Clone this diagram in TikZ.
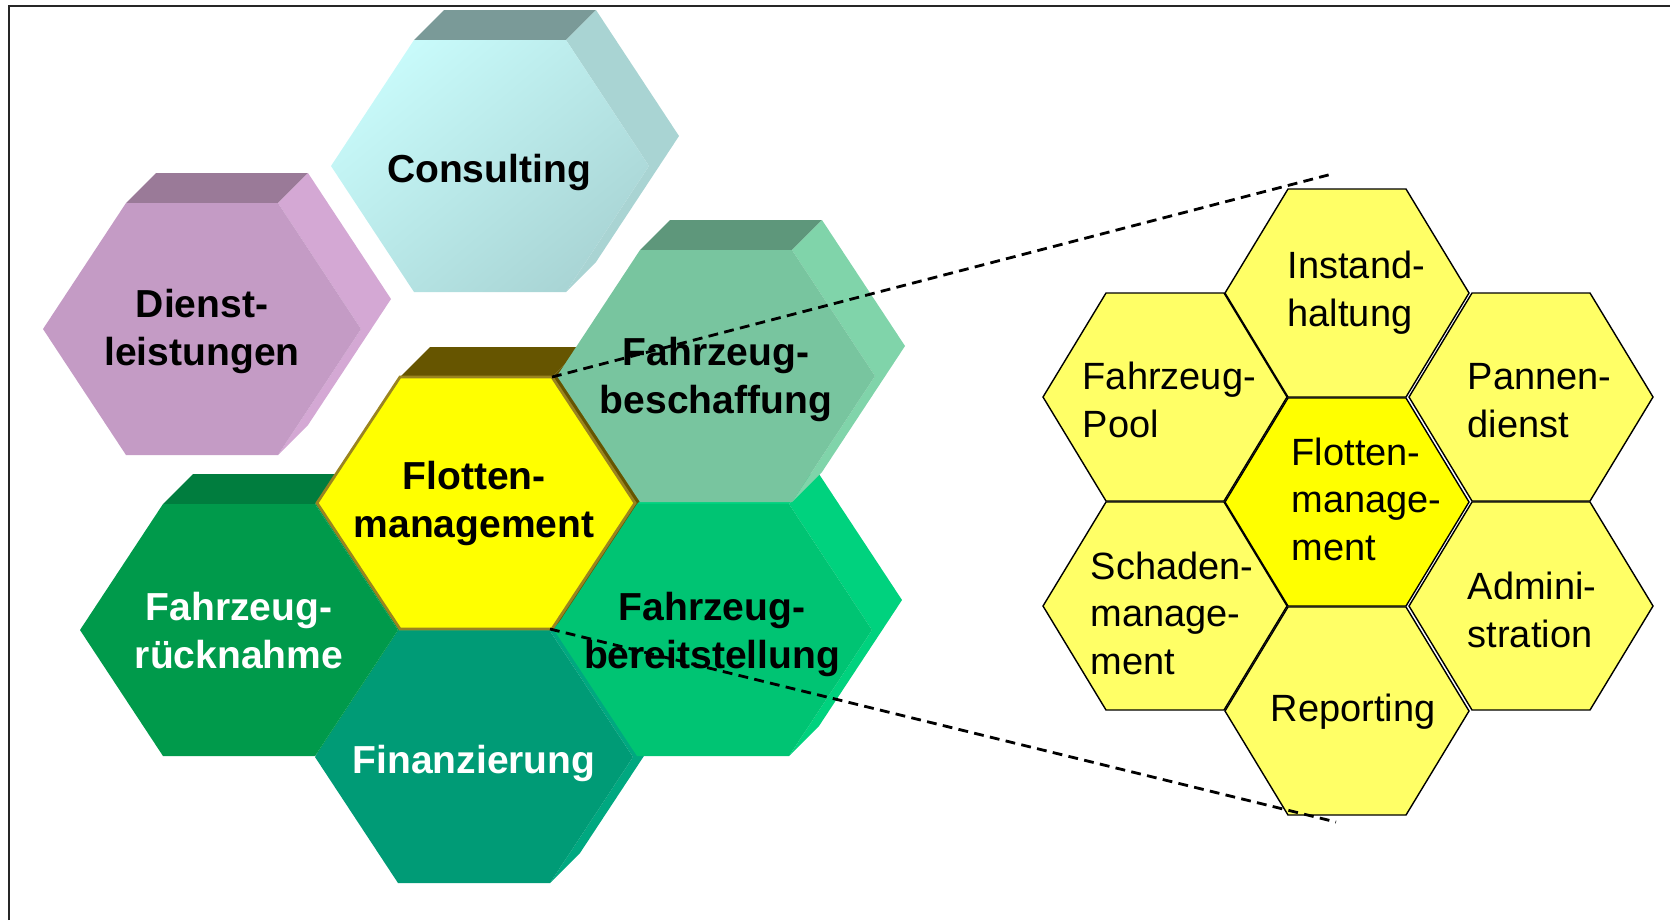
\documentclass[tikz,border=0pt]{standalone}
\usepackage{fontspec}
\setmainfont{Liberation Sans}

\definecolor{consA}{HTML}{C8FAFA}
\definecolor{consB}{HTML}{A9D5D5}
\definecolor{consTop}{HTML}{7A9A98}
\definecolor{consSide}{HTML}{A9D4D3}
\definecolor{dienstFront}{HTML}{C49BC5}
\definecolor{dienstTop}{HTML}{9A7A98}
\definecolor{dienstSide}{HTML}{D4A8D4}
\definecolor{beschFront}{HTML}{78C59F}
\definecolor{beschTop}{HTML}{5E977B}
\definecolor{beschSide}{HTML}{80D4AA}
\definecolor{flotFront}{HTML}{FFFF00}
\definecolor{flotTop}{HTML}{665500}
\definecolor{flotEdge}{HTML}{9A8420}
\definecolor{rueckFront}{HTML}{009A4B}
\definecolor{rueckTop}{HTML}{007D3E}
\definecolor{bereitFront}{HTML}{00C473}
\definecolor{bereitSide}{HTML}{00D27E}
\definecolor{finFront}{HTML}{009B76}
\definecolor{finSide}{HTML}{00A880}
\definecolor{cellOuter}{HTML}{FFFF66}

% front face, top face, side face of one hexagon block (centre x, centre y)
\newcommand{\hexblock}[5]{%
  \fill[#4] (#1-76,#2-126) -- (#1-46,#2-156) -- (#1+106,#2-156) -- (#1+76,#2-126) -- cycle;
  \fill[#5] (#1+76,#2-126) -- (#1+106,#2-156) -- (#1+189,#2-30) -- (#1+106,#2+96)
    -- (#1+76,#2+126) -- (#1+159,#2) -- cycle;
  \path[#3] (#1-159,#2) -- (#1-76,#2-126) -- (#1+76,#2-126) -- (#1+159,#2)
    -- (#1+76,#2+126) -- (#1-76,#2+126) -- cycle;
}
% flat hexagon of the right-hand comb
\newcommand{\combcell}[3]{%
  \draw[cell,#3] (#1-122,#2) -- (#1-59,#2-104) -- (#1+59,#2-104) -- (#1+122,#2)
    -- (#1+59,#2+104) -- (#1-59,#2+104) -- cycle;
}

\tikzset{
  block/.style={font=\fontsize{11.1}{13.4}\selectfont\bfseries, align=center,
    anchor=base, inner sep=0pt},
  item/.style={font=\fontsize{10.8}{13.5}\selectfont, align=left,
    anchor=base west, inner sep=0pt},
  cell/.style={draw=black, line width=0.4pt, fill=cellOuter},
  zoomline/.style={dashed, line width=0.8pt, dash pattern=on 2.8pt off 1.8pt}
}

\begin{document}
\begin{tikzpicture}[x=0.01cm, y=-0.01cm]
\useasboundingbox (0,0) rectangle (1670,920);

% frame
\draw[line width=0.6pt, black!85] (9,920) -- (9,6) -- (1670,6);

% left blocks, back to front
\hexblock{490}{166}{top color=consA, bottom color=consB, shading angle=40}{consTop}{consSide}
\hexblock{202}{329}{fill=dienstFront}{dienstTop}{dienstSide}
\hexblock{239}{630}{fill=rueckFront}{rueckTop}{rueckFront}
\hexblock{474}{757}{fill=finFront}{finSide}{finSide}
\hexblock{476}{503}{fill=flotFront, draw=flotEdge, line width=0.8pt}{flotTop}{flotTop}
\hexblock{713}{630}{fill=bereitFront}{bereitSide}{bereitSide}
\hexblock{716}{376}{fill=beschFront}{beschTop}{beschSide}

% labels sit on the baseline of their last line
\node[block] (consulting) at (489,182) {Consulting};
\node[block] (dienst) at (202,365) {Dienst-\\leistungen};
\node[block] (beschaffung) at (716,413) {Fahrzeug-\\beschaffung};
\node[block] (flotte) at (474,537) {Flotten-\\management};
\node[block, text=white] (ruecknahme) at (239,668) {Fahrzeug-\\rücknahme};
\node[block] (bereitstellung) at (712,668) {Fahrzeug-\\bereitstellung};
\node[block, text=white] (finanzierung) at (474,773) {Finanzierung};

% right comb
\combcell{1347}{293}{}
\combcell{1165}{397}{}
\combcell{1531}{397}{}
\combcell{1165}{606}{}
\combcell{1531}{606}{}
\combcell{1347}{711}{}
\combcell{1347}{502}{fill=flotFront}

\node[item] (instand) at (1287,326) {Instand-\\haltung};
\node[item] (pool) at (1082,437) {Fahrzeug-\\Pool};
\node[item] (pannen) at (1467,437) {Pannen-\\dienst};
\node[item] (flotte-r) at (1291,560) {Flotten-\\manage-\\ment};
\node[item] (schaden) at (1090,674) {Schaden-\\manage-\\ment};
\node[item] (admin) at (1467,647) {Admini-\\stration};
\node[item, anchor=base] (reporting) at (1353,721) {Reporting};

% zoom lines
\coordinate (flotte-ne) at (552,377);
\coordinate (flotte-se) at (550,629);
\coordinate (comb-top) at (1332,174);
\coordinate (comb-bot) at (1336,822);
\draw[zoomline] (flotte-ne) -- (comb-top);
\draw[zoomline] (flotte-se) -- (comb-bot);
\end{tikzpicture}
\end{document}
